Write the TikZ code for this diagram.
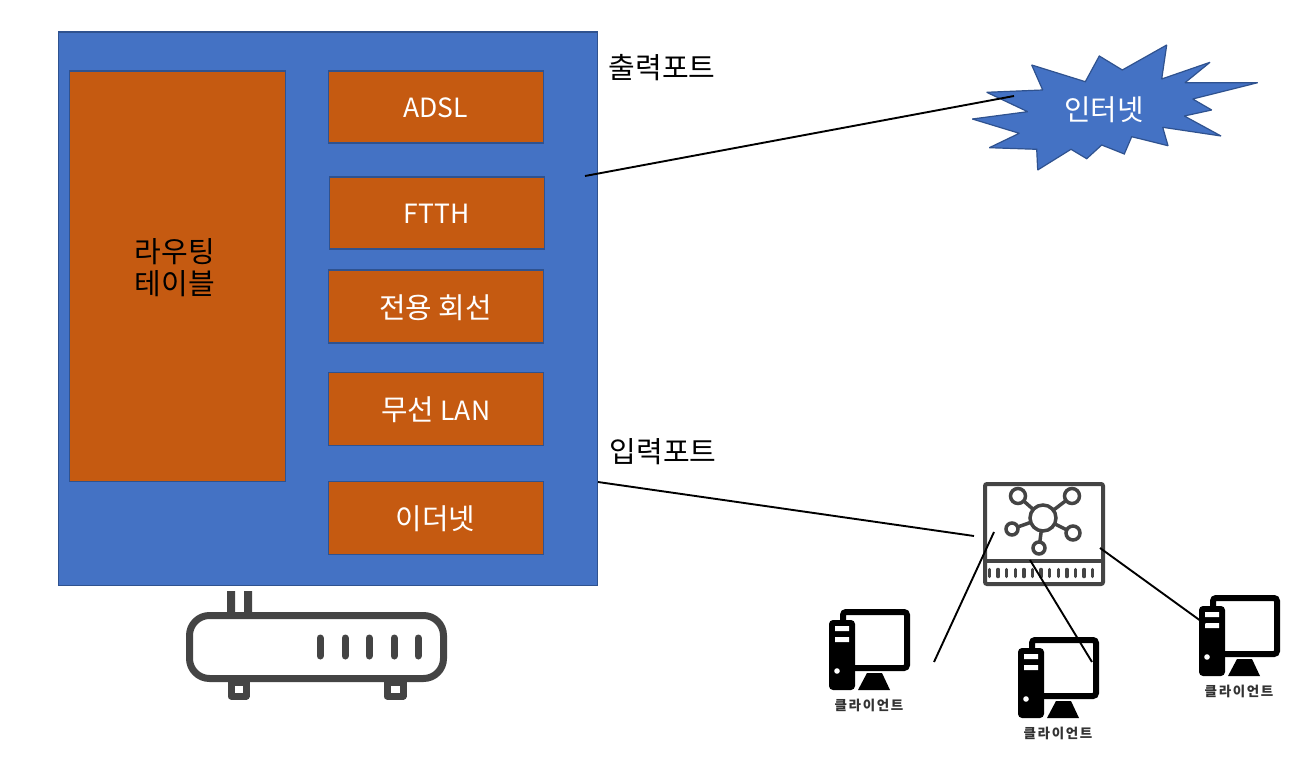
\documentclass[tikz,border=0pt]{standalone}
\usepackage{fontspec}
\setmainfont{Noto Sans CJK KR}
\newcommand{\latinsize}{\fontsize{26.5}{33}\selectfont}
\begin{document}
\begin{tikzpicture}[x=1pt,y=-1pt,
  blockbox/.style={draw=boxedge,line width=1.2pt,fill=boxorange,inner sep=0pt,text=white,font=\fontsize{28.8}{33}\selectfont,anchor=north west,text height=24pt,text depth=0pt},
  latinbox/.style={blockbox,font=\latinsize,text height=21pt},
  portlabel/.style={text=black,font=\fontsize{29}{32}\selectfont,inner sep=0pt},
  wire/.style={draw=black,line width=1.9pt},
  icon/.style={draw=icongrey,line width=6pt,fill=white,line join=round},
  hubline/.style={draw=icongrey,line width=3.5pt},
  clientlabel/.style={text=labelgrey,font=\fontsize{13.5}{16}\selectfont\bfseries\addfontfeatures{LetterSpace=12},inner sep=0pt},
  clientpic/.pic={
    \draw[black,line width=6pt,fill=white,rounded corners=3pt] (14,3) rectangle (78,59);
    \fill[black,rounded corners=4pt] (0,11) rectangle (26,81);
    \fill[white] (6,17) rectangle (20,22) (6,28) rectangle (20,33);
    \fill[white] (8,62) circle (2.8);
    \fill[black] (38,64) -- (53,64) -- (61,81) -- (29,81) -- cycle;
    \node[clientlabel] (lab) at (40,96) {클라이언트};
  }]
\definecolor{boxblue}{HTML}{4472C4}
\definecolor{boxedge}{HTML}{2F528F}
\definecolor{boxorange}{HTML}{C55A11}
\definecolor{icongrey}{HTML}{444444}
\definecolor{labelgrey}{HTML}{333333}
\useasboundingbox (0,0) rectangle (1296,767);
\fill[white] (0,0) rectangle (1296,767);

% router body
\node[draw=boxedge,line width=1.2pt,fill=boxblue,minimum width=539pt,minimum height=553pt,inner sep=0pt,anchor=north west] (router) at (57.5,31.5) {};
\node[blockbox,minimum width=216pt,minimum height=410pt] (table) at (68.5,70.5) {};
\node[text=black,font=\fontsize{29}{32}\selectfont,align=center,inner sep=0pt] (tabletext) at (175,268) {라우팅\\테이블};
\node[latinbox,minimum width=215pt,minimum height=72pt] (adsl) at (327.5,70.5) {ADSL};
\node[latinbox,minimum width=215pt,minimum height=72pt] (ftth) at (328.5,176.5) {FTTH};
\node[blockbox,minimum width=215pt,minimum height=73pt] (lease) at (327.5,269.5) {전용 회선};
\node[blockbox,minimum width=215pt,minimum height=73pt] (wlan) at (327.5,371.5) {무선 {\latinsize LAN}};
\node[blockbox,minimum width=215pt,minimum height=73pt] (ether) at (327.5,480.5) {이더넷};
\node[portlabel] (outp) at (662,68) {출력포트};
\node[portlabel] (inp) at (663,452) {입력포트};

% internet burst
\draw[draw=boxedge,line width=1.2pt,fill=boxblue,line join=miter,miter limit=1.5]
  (986.7,92.3) -- (1042.7,90) -- (1031.7,65) -- (1085.3,81.7) -- (1099.3,56) -- (1122.3,70) -- (1166.7,45) -- (1161.7,79) -- (1210,62.3) -- (1185,82.7) -- (1257.7,82.7) -- (1192.7,99) -- (1211.7,110) -- (1184.3,116) -- (1221,136) -- (1162.7,127.3) -- (1168,145.7) -- (1131.7,136.7) -- (1124.3,154) -- (1101.7,145) -- (1086.7,158.7) -- (1071,149.3) -- (1037.7,170) -- (1036.7,149.3) -- (989.3,147.7) -- (1019.3,133.3) -- (972.3,119) -- (1027.7,111.7) -- cycle;
\node[text=white,font=\fontsize{28.8}{32}\selectfont,inner sep=0pt] (net) at (1104,110) {인터넷};

% modem icon
\draw[icon,line width=7pt] (231,682) rectangle (246,696);
\draw[icon,line width=7pt] (387,682) rectangle (403,696);
\fill[icongrey] (227,591) rectangle (235,612) (244,591) rectangle (252,612);
\draw[icon,line width=7pt,rounded corners=20pt] (189.5,615.5) rectangle (443.5,678.5);
\foreach \lx in {320,345,369,394,418}
  \draw[icongrey,line width=7pt,line cap=round] (\lx,638) -- (\lx,656);

% hub icon
\node[draw=icongrey,line width=4pt,fill=white,rounded corners=2pt,minimum width=118pt,minimum height=100pt,inner sep=0pt,anchor=north west] (hub) at (983,482) {};
\draw[hubline,line width=3.5pt] (983,561) -- (1103,561);
\foreach \bx in {0,...,12}
  \draw[icongrey,line width=3.5pt,line cap=round] ({989.5+8.6*\bx},569.5) -- ({989.5+8.6*\bx},576.5);
\draw[hubline] (1043,518) -- (1018,496) (1043,518) -- (1072,496) (1043,518) -- (1012,529) (1043,518) -- (1073,533) (1043,518) -- (1039,548);
\foreach \cx/\cy/\cr in {1043/518/13,1018/496/7.5,1072/496/7.5,1012/529/6,1073/533/7,1039/548/6}
  \draw[hubline,fill=white] (\cx,\cy) circle (\cr);

% clients
\pic (clienta) at (829,609) {clientpic};
\pic (clientb) at (1018,637) {clientpic};
\pic (clientc) at (1199,595) {clientpic};

% connectors
\coordinate (portout) at (585,176);
\coordinate (netend) at (1014,96);
\coordinate (portin) at (598,482);
\coordinate (hubin) at (974,536);
\coordinate (huba) at (994,532);
\coordinate (enda) at (934,662);
\coordinate (hubb) at (1030,560);
\coordinate (endb) at (1092,662);
\coordinate (hubc) at (1100,548);
\coordinate (endc) at (1205,624);
\draw[wire] (portout) -- (netend);
\draw[wire] (portin) -- (hubin);
\draw[wire] (huba) -- (enda);
\draw[wire] (hubb) -- (endb);
\draw[wire] (hubc) -- (endc);
\end{tikzpicture}
\end{document}
